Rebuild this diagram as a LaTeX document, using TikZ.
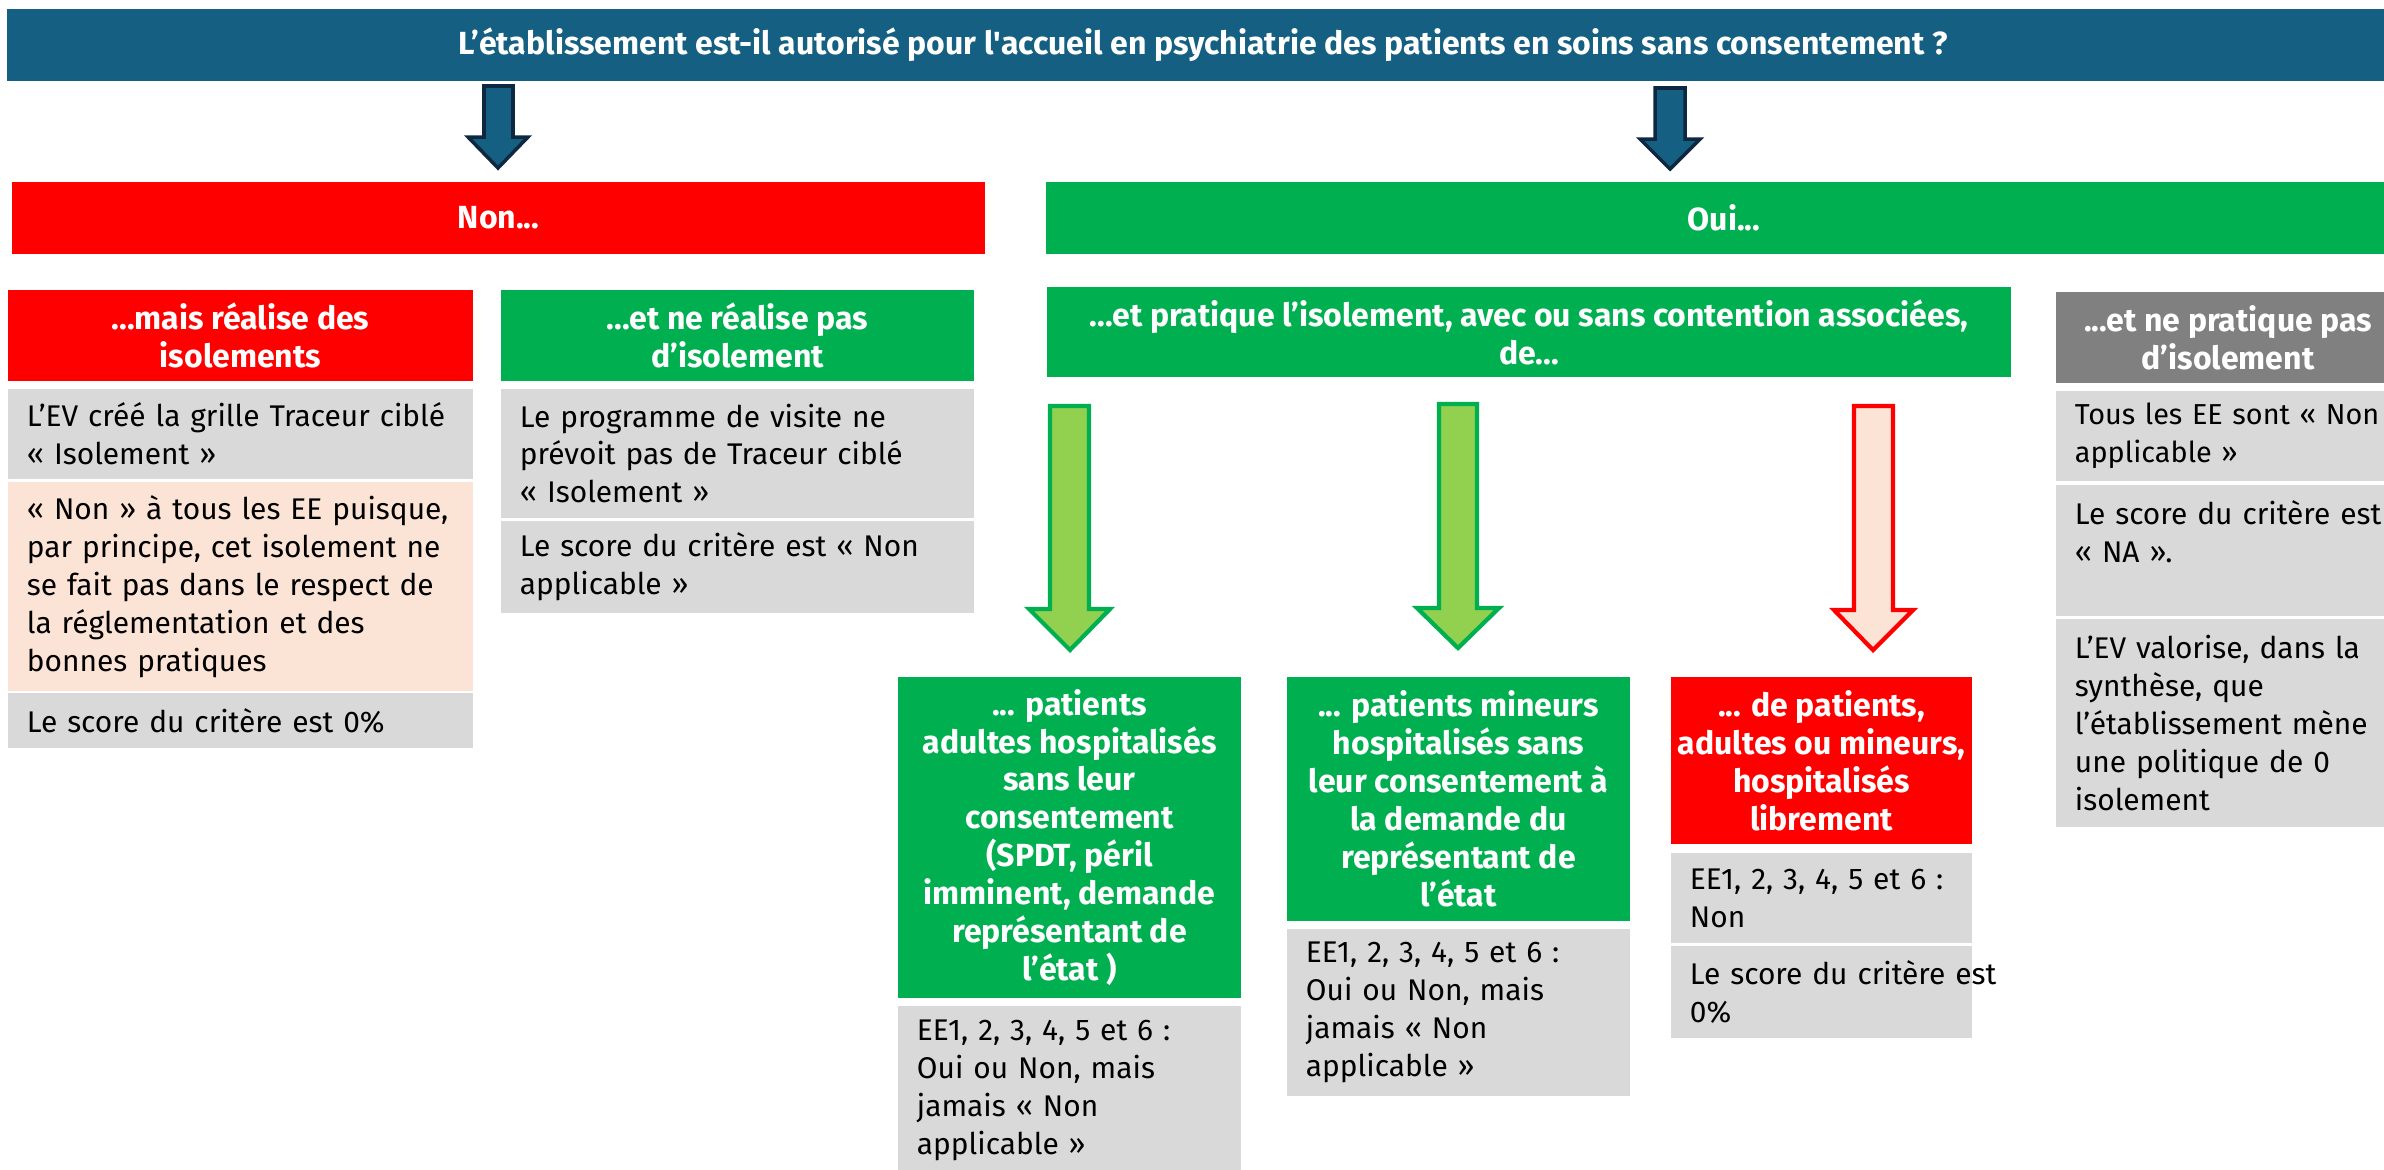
\documentclass[tikz,border=0pt]{standalone}
\usepackage{fontspec}
\setmainfont{Fira Sans}

\definecolor{qblue}{HTML}{156082}
\definecolor{qnavy}{HTML}{0E2841}
\definecolor{nonred}{HTML}{FF0000}
\definecolor{ouigreen}{HTML}{00B050}
\definecolor{lightgreen}{HTML}{92D050}
\definecolor{cellgrey}{HTML}{D9D9D9}
\definecolor{darkgrey}{HTML}{808080}
\definecolor{peach}{HTML}{FBE3D6}

\tikzset{
  hdr/.style={text=white,font=\fontsize{9.1}{10.8}\selectfont\bfseries,align=center,inner sep=0pt},
  cell/.style={fill=cellgrey,align=left,inner xsep=0.19cm,inner ysep=0.08cm},
  bluearrow/.style={fill=qblue,draw=qnavy,line width=1pt},
  greenarrow/.style={fill=lightgreen,draw=ouigreen,line width=1.2pt},
  redarrow/.style={fill=peach,draw=nonred,line width=1.2pt}
}

\begin{document}
\fontsize{8.5}{10.8}\selectfont
\begin{tikzpicture}[x=0.01cm,y=-0.01cm]
\useasboundingbox (0,0) rectangle (2384,1169);
\clip (0,0) rectangle (2384,1169);

% question
\node[hdr,fill=qblue,minimum width=23.90cm,minimum height=0.72cm] (q) at (1203,45) {L’établissement est-il autorisé pour l\textquotesingle accueil en psychiatrie des patients en soins sans consentement ?};
\draw[bluearrow] (484,86) -- (513,86) -- (513,137) -- (528,137) -- (498,168) -- (468,137) -- (484,137) -- cycle;
\draw[bluearrow] (1655,88) -- (1685,88) -- (1685,139) -- (1700,139) -- (1670,169) -- (1640,139) -- (1655,139) -- cycle;
\node[hdr,fill=nonred,minimum width=9.73cm,minimum height=0.72cm] (non) at (498.5,218) {Non...};
\node[hdr,fill=ouigreen,minimum width=13.56cm,minimum height=0.72cm] (oui) at (1724,218) {Oui...};

% branche non
\node[hdr,fill=nonred,minimum width=4.65cm,minimum height=0.91cm] (nonA) at (240.5,335.5) {...mais réalise des\\isolements};
\node[cell,text width=4.27cm,minimum height=0.90cm] (nonA1) at (240.5,434) {L’EV créé la grille Traceur ciblé\\« Isolement »};
\node[cell,fill=peach,text width=4.27cm,minimum height=2.09cm] (nonA2) at (240.5,586.5) {« Non » à tous les EE puisque,\\par principe, cet isolement ne\\se fait pas dans le respect de\\la réglementation et des\\bonnes pratiques};
\node[cell,text width=4.27cm,minimum height=0.55cm] (nonA3) at (240.5,720.5) {Le score du critère est 0\%};

\node[hdr,fill=ouigreen,minimum width=4.73cm,minimum height=0.91cm] (nonB) at (737.5,335.5) {...et ne réalise pas\\d’isolement};
\node[cell,text width=4.35cm,minimum height=1.29cm] (nonB1) at (737.5,453.5) {Le programme de visite ne\\prévoit pas de Traceur ciblé\\« Isolement »};
\node[cell,text width=4.35cm,minimum height=0.92cm] (nonB2) at (737.5,567) {Le score du critère est « Non\\applicable »};

% branche oui
\node[hdr,fill=ouigreen,minimum width=9.64cm,minimum height=0.90cm] (ouiA) at (1529,332) {...et pratique l’isolement, avec ou sans contention associées,\\de...};
\node[hdr,fill=darkgrey,minimum width=3.44cm,minimum height=0.91cm] (ouiB) at (2228,337.5) {...et ne pratique pas\\d’isolement};
\node[cell,text width=3.26cm,minimum height=0.90cm,font=\fontsize{8.2}{10.8}\selectfont] (ouiB1) at (2238,436) {Tous les EE sont « Non\\applicable »};
\node[cell,text width=3.26cm,minimum height=1.31cm] (ouiB2) at (2238,550.5) {Le score du critère est\\« NA ».\\ \mbox{}};
\node[cell,text width=3.26cm,minimum height=2.08cm] (ouiB3) at (2238,723) {L’EV valorise, dans la\\synthèse, que\\l’établissement mène\\une politique de 0\\isolement};

\draw[greenarrow] (1050,406) -- (1089,406) -- (1089,609) -- (1110,609) -- (1070,650) -- (1029,609) -- (1050,609) -- cycle;
\draw[greenarrow] (1439,404) -- (1477,404) -- (1477,608) -- (1499,608) -- (1458,648) -- (1417,608) -- (1439,608) -- cycle;
\draw[redarrow] (1854,406) -- (1893,406) -- (1893,610) -- (1913,610) -- (1873,650) -- (1834,610) -- (1854,610) -- cycle;

\node[hdr,fill=ouigreen,minimum width=3.43cm,minimum height=3.21cm] (adult) at (1069.5,837.5) {... patients\\adultes hospitalisés\\sans leur\\consentement\\(SPDT, péril\\imminent, demande\\représentant de\\l’état )};
\node[cell,text width=3.05cm,minimum height=1.69cm] (adult1) at (1069.5,1090.5) {EE1, 2, 3, 4, 5 et 6 :\\Oui ou Non, mais\\jamais « Non\\applicable »};

\node[hdr,fill=ouigreen,minimum width=3.43cm,minimum height=2.44cm] (minor) at (1458.5,799) {... patients mineurs\\hospitalisés sans\\leur consentement à\\la demande du\\représentant de\\l’état};
\node[cell,text width=3.05cm,minimum height=1.67cm] (minor1) at (1458.5,1012.5) {EE1, 2, 3, 4, 5 et 6 :\\Oui ou Non, mais\\jamais « Non\\applicable »};

\node[hdr,fill=nonred,minimum width=3.01cm,minimum height=1.67cm] (libre) at (1821.5,760.5) {... de patients,\\adultes ou mineurs,\\hospitalisés\\librement};
\node[cell,text width=2.63cm,minimum height=0.90cm] (libre1) at (1821.5,898) {EE1, 2, 3, 4, 5 et 6 :\\Non};
\node[cell,text width=2.63cm,minimum height=0.92cm] (libre2) at (1821.5,992) {\rlap{Le score du critère est}\\0\%};
\end{tikzpicture}
\end{document}
